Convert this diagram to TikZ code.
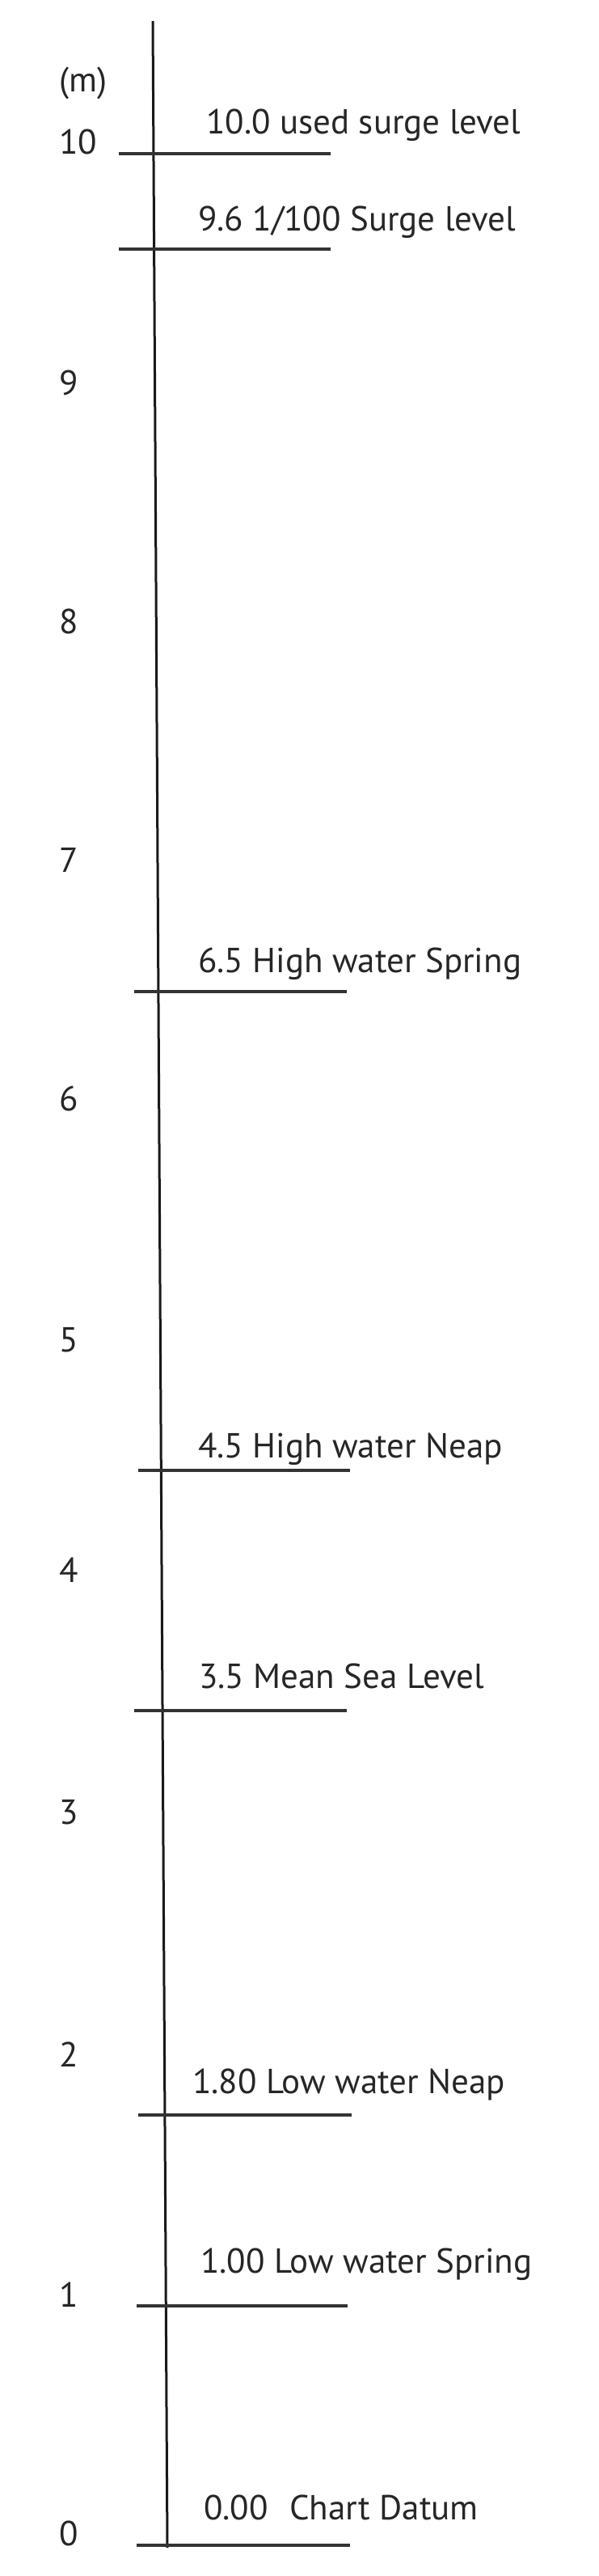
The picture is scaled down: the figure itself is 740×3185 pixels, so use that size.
\documentclass[tikz,border=0pt]{standalone}
\usepackage{fontspec}
\setmainfont{PT Sans}
\begin{document}
\begin{tikzpicture}[x=1pt,y=-1pt,
  lbl/.style={inner sep=0pt, anchor=base west, text=black!85, font=\fontsize{43}{52}\selectfont},
  tickline/.style={line width=4pt, draw=black!80},
  axisline/.style={line width=3pt, draw=black!90}]
\useasboundingbox (0,0) rectangle (740,3185);
\fill[white] (0,0) rectangle (740,3185);
% axis
\coordinate (atop) at (189,26);
\coordinate (abot) at (207,3150);
\draw[axisline] (atop) -- (abot);
% ticks
\coordinate (t10a) at (147,190);  \coordinate (t10b) at (409,190);
\coordinate (t96a) at (147,308);  \coordinate (t96b) at (409,308);
\coordinate (t65a) at (166,1226); \coordinate (t65b) at (429,1226);
\coordinate (t45a) at (171,1818); \coordinate (t45b) at (433,1818);
\coordinate (t35a) at (166,2115); \coordinate (t35b) at (429,2115);
\coordinate (t18a) at (171,2615); \coordinate (t18b) at (435,2615);
\coordinate (t10la) at (169,2851); \coordinate (t10lb) at (430,2851);
\coordinate (t00a) at (169,3147); \coordinate (t00b) at (433,3147);
\foreach \a/\b in {t10a/t10b,t96a/t96b,t65a/t65b,t45a/t45b,t35a/t35b,t18a/t18b,t10la/t10lb,t00a/t00b}
  \draw[tickline] (\a) -- (\b);
% scale labels
\node[lbl] (unit) at (73,113) {(m)};
\node[lbl] (s10) at (73,190) {10};
\node[lbl] (s9) at (73,488) {9};
\node[lbl] (s8) at (73,783) {8};
\node[lbl] (s7) at (73,1078) {7};
\node[lbl] (s6) at (73,1373) {6};
\node[lbl] (s5) at (73,1671) {5};
\node[lbl] (s4) at (73,1956) {4};
\node[lbl] (s3) at (73,2255) {3};
\node[lbl] (s2) at (73,2555) {2};
\node[lbl] (s1) at (73,2852) {1};
\node[lbl] (s0) at (73,3147) {0};
% level labels
\node[lbl] (l100) at (255,165) {10.0 used surge level};
\node[lbl] (l96) at (245,285) {9.6 1/100 Surge level};
\node[lbl] (l65) at (245,1202) {6.5 High water Spring};
\node[lbl] (l45) at (245,1802) {4.5 High water Neap};
\node[lbl] (l35) at (246,2087) {3.5 Mean Sea Level};
\node[lbl] (l18) at (238,2588) {1.80 Low water Neap};
\node[lbl] (l10) at (248,2810) {1.00 Low water Spring};
\node[lbl] (l00) at (252,3115) {0.00\hspace{0.35em} Chart Datum};
\end{tikzpicture}
\end{document}
